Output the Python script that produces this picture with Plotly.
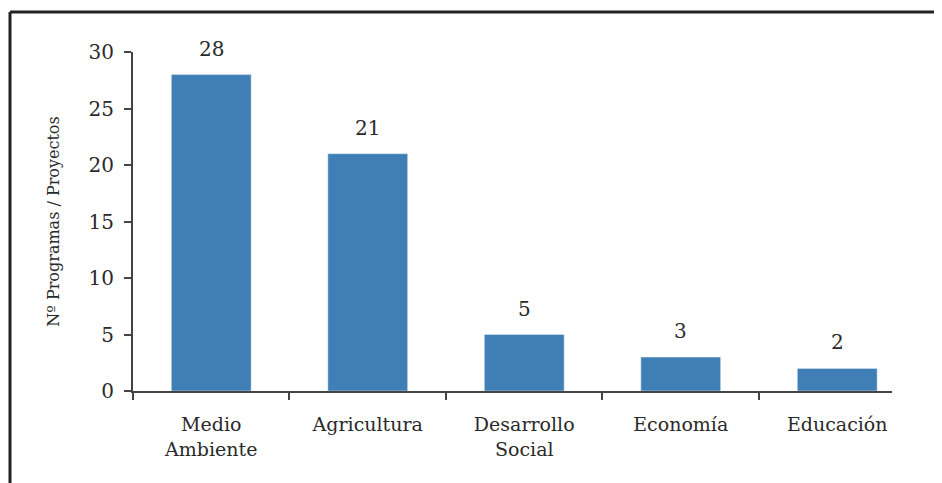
import plotly.graph_objects as go

categories = ["Medio<br>Ambiente", "Agricultura", "Desarrollo<br>Social", "Economía", "Educación"]
values = [28, 21, 5, 3, 2]
y_ticks = [0, 5, 10, 15, 20, 25, 30]

FONT = "DejaVu Serif"
TXT = "#2a2a2a"
fig = go.Figure(go.Bar(
    x=categories, y=values, marker_color="#3F7FB6", width=0.51,
))
for c, v in zip(categories, values):
    fig.add_annotation(x=c, y=v, text=str(v), showarrow=False, yanchor="bottom", yshift=12,
                       font=dict(family=FONT, size=20, color=TXT))

OFF = 8  # page body offset
W, H = 942, 483
L, T = 133 - OFF, 52 - OFF
B = H - (391 - OFF)
R = W - (892 - OFF)
pw, ph = W - L - R, H - T - B
def px(x): return (x - OFF - L) / pw
def py(y): return (H - B - (y - OFF)) / ph

fig.update_layout(
    width=W, height=H, margin=dict(l=L, r=R, t=T, b=B),
    plot_bgcolor="white", paper_bgcolor="white", showlegend=False,
    font=dict(family=FONT, color=TXT),
    xaxis=dict(range=[-0.5, 4.35], showline=True, linecolor="#444", linewidth=2,
               ticks="outside", tickson="boundaries", ticklen=7, tickwidth=2, tickcolor="#444",
               ticklabelstandoff=15,
               tickfont=dict(family=FONT, size=19, color=TXT), showgrid=False),
    yaxis=dict(range=[0, 30], tickvals=y_ticks, showline=True, linecolor="#444", linewidth=2,
               ticks="outside", ticklen=7, tickwidth=2, tickcolor="#444", ticklabelstandoff=6,
               tickfont=dict(family=FONT, size=20, color=TXT), showgrid=False, zeroline=False,
               title=dict(text="Nº Programas / Proyectos", font=dict(family=FONT, size=16, color=TXT), standoff=25)),
    shapes=[
        dict(type="line", xref="paper", yref="paper", x0=px(10), x1=px(950), y0=py(12), y1=py(12),
             line=dict(color="#222", width=3)),
        dict(type="line", xref="paper", yref="paper", x0=px(10), x1=px(10), y0=py(12), y1=py(490),
             line=dict(color="#222", width=3)),
    ],
)
fig.write_html("out.html")
